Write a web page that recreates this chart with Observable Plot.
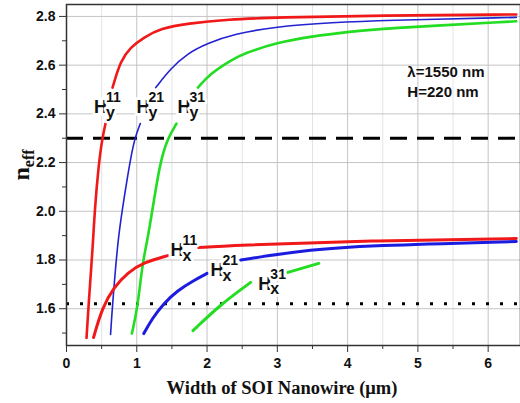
<!DOCTYPE html>
<html><head><meta charset="utf-8">
<script src="https://cdn.jsdelivr.net/npm/d3@7"></script>
<script src="https://cdn.jsdelivr.net/npm/@observablehq/plot@0.6"></script>
<style>body{margin:0;background:#fff}#chart svg{display:block}</style>
</head><body><div id="chart"></div>
<script>
// ---- data (null = break in the curve where a label sits) ----
const hy11X = [0.285,0.31,0.38,0.40,0.46,0.51,0.555,null,0.655,0.77,0.91,1.10,1.34,1.72,2.29,3.0,4.47,6.4];
const hy11Y = [1.48,1.60,1.88,2.00,2.20,2.30,2.36,null,2.508,2.619,2.673,2.714,2.751,2.771,2.788,2.796,2.804,2.808];
const hy21X = [0.627,0.65,0.73,0.79,0.90,0.97,1.05,null,1.27,1.48,1.72,2.0,2.38,3.0,3.8,4.47,6.4];
const hy21Y = [1.494,1.60,1.88,2.00,2.20,2.30,2.36,null,2.508,2.586,2.648,2.689,2.728,2.759,2.775,2.784,2.796];
const hy31X = [0.93,1.01,1.08,1.15,1.22,1.33,1.44,1.565,null,1.87,2.05,2.34,2.52,3.0,3.48,4.05,4.47,6.4];
const hy31Y = [1.498,1.60,1.786,1.88,2.00,2.20,2.30,2.36,null,2.508,2.566,2.62,2.648,2.693,2.718,2.738,2.75,2.78];
const hx11X = [0.385,0.51,0.67,0.87,1.10,1.44,null,1.88,2.34,4.33,6.4];
const hx11Y = [1.482,1.605,1.687,1.749,1.79,1.818,null,1.851,1.86,1.88,1.888];
const hx21X = [1.10,1.22,1.38,1.58,1.81,2.0,null,2.48,3.33,4.33,6.4];
const hx21Y = [1.498,1.56,1.621,1.675,1.716,1.745,null,1.80,1.839,1.86,1.876];
const hx31X = [1.80,2.19,2.62,null,3.15,3.59];
const hx31Y = [1.51,1.617,1.708,null,1.749,1.786];

const seriesNames = ["Hy11","Hy21","Hy31","Hx11","Hx21","Hx31"];
const seriesColors = ["#f01818","#2222d0","#22dd22","#f01818","#1c1ce0","#22dd22"];
const seriesWidths = [2.6,1.6,2.6,3,3,3];

const dashedLevel = [2.3];
const dottedLevel = [1.62];

// mode labels: H with subscript and superscript
const labH = ["H","H","H","H","H","H"];
const labSub = ["y","y","y","x","x","x"];
const labSup = ["11","21","31","11","21","31"];
const labX = [0.39,0.997,1.58,1.48,2.05,2.73];
const labY = [2.426,2.426,2.426,1.839,1.757,1.70];

const noteText = ["λ=1550 nm","H=220 nm"];
const noteX = [4.85,4.85];
const noteY = [2.57,2.488];

const xMajor = [0,1,2,3,4,5,6];
const xMinor = [0.5,1.5,2.5,3.5,4.5,5.5];
const yMajor = [1.6,1.8,2.0,2.2,2.4,2.6,2.8];
const yMinor = [1.5,1.7,1.9,2.1,2.3,2.5,2.7];

const xTitle = "Width of SOI Nanowire (μm)";

// ---- build tables ----
const allX = [hy11X,hy21X,hy31X,hx11X,hx21X,hx31X];
const allY = [hy11Y,hy21Y,hy31Y,hx11Y,hx21Y,hx31Y];
const curves = seriesNames.map((s,i)=>allX[i].map((x,j)=>({s, x, y: allY[i][j]})));
const labels = labH.map((h,i)=>({h, sub: labSub[i], sup: labSup[i], x: labX[i], y: labY[i]}));
const notes = noteText.map((t,i)=>({t, x: noteX[i], y: noteY[i]}));

const sans = "Liberation Sans, Arial, sans-serif";
const serif = "Liberation Serif, Times New Roman, serif";

const halo = {stroke:"white", strokeWidth:6, paintOrder:"stroke", fill:"#111", fontWeight:"bold", fontFamily:sans, textAnchor:"start", lineAnchor:"middle"};

const marks = [
  Plot.gridX(xMinor, {stroke:"#e4e4e4", strokeOpacity:1}),
  Plot.gridX(xMajor, {stroke:"#c4c4c4", strokeOpacity:1}),
  Plot.gridY(yMajor, {stroke:"#c4c4c4", strokeOpacity:1}),
  Plot.ruleY(dashedLevel, {stroke:"#000", strokeWidth:3, strokeDasharray:"17,10"}),
  Plot.ruleY(dottedLevel, {stroke:"#000", strokeWidth:3, strokeDasharray:"3,11"}),
  ...curves.map((c,i)=>Plot.line(c, {x:"x", y:"y", stroke: seriesColors[i], strokeWidth: seriesWidths[i], curve:"basis"})),
  Plot.text(labels, {x:"x", y:"y", text:"h", fontSize:18, ...halo}),
  Plot.text(labels, {x:"x", y:"y", text:"sup", dx:12, dy:-10, fontSize:14, ...halo, strokeWidth:5}),
  Plot.text(labels, {x:"x", y:"y", text:"sub", dx:12, dy:5, fontSize:16, ...halo, strokeWidth:5}),
  Plot.text(notes, {x:"x", y:"y", text:"t", textAnchor:"start", lineAnchor:"middle", fontSize:15, fontWeight:"bold", fontFamily:sans, fill:"#111"}),
  Plot.axisX({ticks:xMajor, tickSize:7, tickPadding:6, tickFormat:d=>String(d), fontSize:14, fontWeight:"bold", fontFamily:sans, label:null, stroke:"#333"}),
  Plot.axisX({ticks:xMinor, tickSize:4, tickFormat:()=>"", label:null, stroke:"#333"}),
  Plot.axisY({ticks:yMajor, tickSize:7, tickPadding:4, tickFormat:d=>d.toFixed(1), fontSize:14, fontWeight:"bold", fontFamily:sans, label:null, stroke:"#333"}),
  Plot.axisY({ticks:yMinor, tickSize:4, tickFormat:()=>"", label:null, stroke:"#333"}),
  Plot.frame({stroke:"#333", strokeWidth:1.5})
];

const chart = Plot.plot({
  width: 520, height: 403,
  marginLeft: 66, marginRight: 0, marginTop: 4, marginBottom: 58,
  x: {domain:[0,6.46]},
  y: {domain:[1.449,2.849]},
  style: {background:"white", color:"#111"},
  marks
});

const svg = d3.select(chart);
svg.append("text")
  .attr("x", 282).attr("y", 394)
  .attr("text-anchor","middle")
  .attr("font-family", serif).attr("font-weight","bold").attr("font-size",18.5).attr("fill","#111")
  .text(xTitle);
const yt = svg.append("text")
  .attr("transform","translate(29,165) rotate(-90)")
  .attr("text-anchor","middle")
  .attr("font-family", serif).attr("font-weight","bold").attr("fill","#111");
yt.append("tspan").attr("font-size",24).text("n");
yt.append("tspan").attr("font-size",16).attr("dy",5).text("eff");

document.getElementById("chart").appendChild(chart);
</script>
</body></html>
